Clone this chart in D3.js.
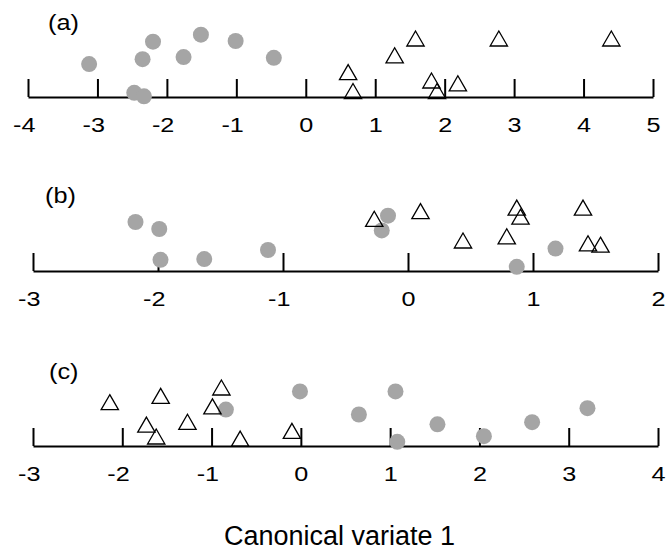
<!DOCTYPE html>
<html>
<head>
<meta charset="utf-8">
<script src="https://cdn.jsdelivr.net/npm/d3@7"></script>
<style>
  body { margin: 0; background: #fff; }
  text { font-family: "Liberation Sans", Arial, sans-serif; fill: #000; }
</style>
</head>
<body>
<script>
"use strict";

// canonical variate 1 scores, one strip per panel
// "Lift" = height of the point above the axis (0 = on the axis, 1 = top of strip)
var panelLabels = ["(a)", "(b)", "(c)"];
var panelDomains = [[-4, 5], [-3, 2], [-3, 4]];
var panelTicks = [
  [-4, -3, -2, -1, 0, 1, 2, 3, 4, 5],
  [-3, -2, -1, 0, 1, 2],
  [-3, -2, -1, 0, 1, 2, 3, 4]
];

// (a)
var aCircleX = [-3.12, -2.35, -2.20, -1.76, -1.51, -1.01, -0.46, -2.47, -2.33];
var aCircleLift = [0.47, 0.54, 0.79, 0.57, 0.89, 0.80, 0.56, 0.06, 0.01];
var aTriX = [0.61, 0.68, 1.28, 1.58, 2.78, 4.40, 1.81, 1.89, 2.19];
var aTriLift = [0.32, 0.05, 0.56, 0.80, 0.80, 0.80, 0.20, 0.05, 0.16];

// (b)
var bCircleX = [-2.18, -1.99, -1.98, -1.63, -1.12, -0.16, -0.21, 0.87, 1.18];
var bCircleLift = [0.70, 0.60, 0.16, 0.17, 0.30, 0.79, 0.58, 0.06, 0.32];
var bTriX = [-0.27, 0.10, 0.44, 0.79, 0.87, 0.90, 1.40, 1.44, 1.54];
var bTriLift = [0.71, 0.82, 0.40, 0.46, 0.87, 0.74, 0.87, 0.36, 0.34];

// (c)
var cCircleX = [-0.84, -0.01, 0.65, 1.06, 1.08, 1.53, 2.05, 2.59, 3.21];
var cCircleLift = [0.52, 0.78, 0.45, 0.78, 0.06, 0.31, 0.14, 0.34, 0.54];
var cTriX = [-2.14, -1.57, -0.89, -0.99, -1.73, -1.62, -1.27, -0.68, -0.10];
var cTriLift = [0.59, 0.68, 0.80, 0.53, 0.27, 0.10, 0.31, 0.07, 0.18];

var xTitle = "Canonical variate 1";

var width = 671,
    height = 550;

var svg = d3.select("body").append("svg")
    .attr("width", width)
    .attr("height", height);

var panels = [
  { circX: aCircleX, circY: aCircleLift, triX: aTriX, triY: aTriLift, axisY: 97, x0: 28, x1: 653, lx: 48, ly: 29.5 },
  { circX: bCircleX, circY: bCircleLift, triX: bTriX, triY: bTriLift, axisY: 271, x0: 33, x1: 658, lx: 45, ly: 203 },
  { circX: cCircleX, circY: cCircleLift, triX: cTriX, triY: cTriLift, axisY: 446, x0: 33, x1: 658, lx: 49, ly: 379 }
];

var tri = d3.symbol().type(d3.symbolTriangle).size(130);

panels.forEach(function(p, i) {
  var x = d3.scaleLinear()
      .domain(panelDomains[i])
      .range([p.x0, p.x1]);

  var y = d3.scaleLinear()
      .domain([0, 1])
      .range([p.axisY, p.axisY - 70]);

  var g = svg.append("g");

  // axis: ticks point up, labels below
  var axis = g.append("g")
      .attr("transform", "translate(0," + p.axisY + ")")
      .call(d3.axisBottom(x)
        .tickValues(panelTicks[i])
        .tickFormat(function(d) { return String(d); })
        .tickSizeInner(-18)
        .tickSizeOuter(0)
        .tickPadding(20));

  axis.select(".domain").attr("stroke", "#000").attr("stroke-width", 2);
  axis.selectAll(".tick line").attr("stroke", "#000").attr("stroke-width", 2);
  axis.selectAll(".tick text")
      .attr("font-size", 21)
      .attr("font-family", null)
      .attr("dy", null)
      .attr("y", 0)
      .attr("transform", "translate(0,34.5) scale(1.2,1)")
      .attr("text-anchor", function(d) { return d < 0 ? "end" : "middle"; })
      .attr("x", function(d) { return d < 0 ? 5.8 : 0; });

  // panel letter
  g.append("text")
      .attr("transform", "translate(" + p.lx + "," + p.ly + ") scale(1.15,1)")
      .attr("font-size", 22)
      .text(panelLabels[i]);

  var circ = p.circX.map(function(v, k) { return { x: v, y: p.circY[k] }; });
  var tris = p.triX.map(function(v, k) { return { x: v, y: p.triY[k] }; });

  g.selectAll("circle")
      .data(circ)
    .enter().append("circle")
      .attr("cx", function(d) { return x(d.x); })
      .attr("cy", function(d) { return y(d.y); })
      .attr("r", 8)
      .attr("fill", "#a5a5a5");

  g.selectAll("path.tri")
      .data(tris)
    .enter().append("path")
      .attr("class", "tri")
      .attr("d", tri)
      .attr("transform", function(d) { return "translate(" + x(d.x) + "," + y(d.y) + ")"; })
      .attr("fill", "none")
      .attr("stroke", "#000")
      .attr("stroke-width", 1.3);
});

svg.append("text")
    .attr("x", 224)
    .attr("y", 544.5)
    .attr("font-size", 27)
    .text(xTitle);
</script>
</body>
</html>
